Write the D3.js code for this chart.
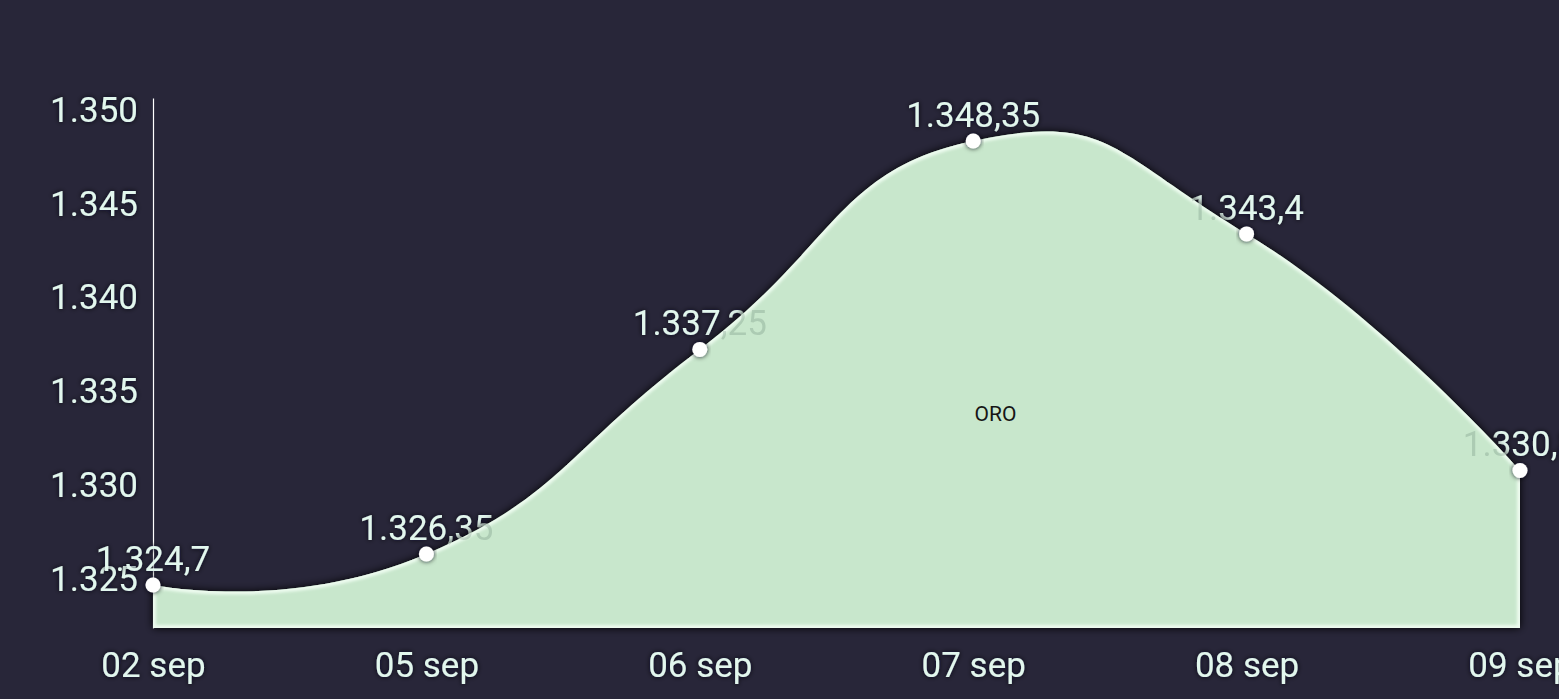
<!DOCTYPE html>
<html><head><meta charset="utf-8">
<script src="https://cdn.jsdelivr.net/npm/d3@7"></script>
<style>
html,body{margin:0;padding:0;background:#282639;}
svg{display:block;}
text{font-family:Roboto,"Noto Sans",sans-serif;}
</style></head>
<body><svg id="c" width="1559" height="699"></svg>
<script>
const categories = ["02 sep","05 sep","06 sep","07 sep","08 sep","09 sep"];
const values = [1324.7,1326.35,1337.25,1348.35,1343.4,1330.8];
const valueLabels = ["1.324,7","1.326,35","1.337,25","1.348,35","1.343,4","1.330,8"];
const yTicks = [1325,1330,1335,1340,1345,1350];
const yTickLabels = ["1.325","1.330","1.335","1.340","1.345","1.350"];
const seriesName = "ORO";
const yDomain = [1322.41,1350.64];

const W=1559,H=699;
const svg=d3.select("#c");
svg.append("rect").attr("width",W).attr("height",H).attr("fill","#282639");
const defs=svg.append("defs");
const tf=defs.append("filter").attr("id","tglow").attr("x","-20%").attr("y","-40%").attr("width","140%").attr("height","180%");
tf.append("feDropShadow").attr("dx",0).attr("dy",0).attr("stdDeviation",2.5).attr("flood-color","#0b0a14").attr("flood-opacity",0.9);
const af=defs.append("filter").attr("id","ashadow").attr("x","-10%").attr("y","-10%").attr("width","120%").attr("height","130%");
af.append("feDropShadow").attr("dx",0).attr("dy",0).attr("stdDeviation",4.5).attr("flood-color","#06050c").attr("flood-opacity",1);
defs.append("filter").attr("id","blur").append("feGaussianBlur").attr("stdDeviation",1.8);

const x=d3.scalePoint().domain(categories).range([153,1520]);
const y=d3.scaleLinear().domain(yDomain).range([628,98]);
const data=categories.map((c,i)=>({c,v:values[i],l:valueLabels[i]}));

const curve=d3.curveCardinal.tension(-0.5);
const area=d3.area().x(d=>x(d.c)).y0(y(yDomain[0])).y1(d=>y(d.v)).curve(curve);
const line=d3.line().x(d=>x(d.c)).y(d=>y(d.v)).curve(curve);

defs.append("clipPath").attr("id","aclip").append("path").attr("d",area(data));

// y axis
const ya=svg.append("g").attr("transform",`translate(${x(categories[0])},0)`)
  .call(d3.axisLeft(y).tickValues(yTicks).tickFormat((d,i)=>yTickLabels[i]).tickSize(0).tickSizeOuter(0).tickPadding(15));
ya.select(".domain").attr("stroke","#ffffff").attr("stroke-width",1.2);
ya.selectAll("text").attr("font-size",35).attr("fill","#e2f7ee").attr("filter","url(#tglow)").attr("font-family","Roboto");

// x axis
const xa=svg.append("g").attr("transform",`translate(0,${y(yDomain[0])})`)
  .call(d3.axisBottom(x).tickSize(0).tickPadding(24));
xa.select(".domain").remove();
xa.selectAll("text").attr("font-size",35).attr("fill","#e2f7ee").attr("filter","url(#tglow)").attr("font-family","Roboto");

// value labels (under area)
const lab=svg.append("g");
lab.selectAll("text").data(data).join("text")
  .attr("x",d=>x(d.c)).attr("y",d=>y(d.v)-14).attr("text-anchor","middle")
  .attr("font-size",35).attr("fill","#e2f7ee").attr("filter","url(#tglow)").text(d=>d.l);

// area
svg.append("path").attr("d",area(data)).attr("fill","#c8e7cc").attr("filter","url(#ashadow)");
svg.append("path").attr("d",area(data)).attr("fill","none").attr("stroke","#f4fff6").attr("stroke-width",6)
  .attr("clip-path","url(#aclip)").attr("filter","url(#blur)").attr("opacity",0.85);

// label ghosts inside area
svg.append("g").attr("clip-path","url(#aclip)").selectAll("text").data(data).join("text")
  .attr("x",d=>x(d.c)).attr("y",d=>y(d.v)-14).attr("text-anchor","middle")
  .attr("font-size",35).attr("fill","#4a6a5a").attr("opacity",0.22).text(d=>d.l);

// points
svg.append("g").selectAll("circle").data(data).join("circle")
  .attr("cx",d=>x(d.c)).attr("cy",d=>y(d.v)).attr("r",7.5).attr("fill","#ffffff").attr("filter","url(#tglow)");

// series name near area centroid
const tmp=svg.append("path").attr("d",line(data)).attr("fill","none");
const node=tmp.node(),len=node.getTotalLength();
const poly=[];
for(let i=0;i<=400;i++){const p=node.getPointAtLength(len*i/400);poly.push([p.x,p.y]);}
poly.push([x(categories[categories.length-1]),y(yDomain[0])]);
poly.push([x(categories[0]),y(yDomain[0])]);
tmp.remove();
const cen=d3.polygonCentroid(poly);
svg.append("text").attr("x",cen[0]).attr("y",cen[1]-30).attr("text-anchor","middle").attr("dominant-baseline","central")
  .attr("font-size",21).attr("fill","#161616").text(seriesName);
</script></body></html>
